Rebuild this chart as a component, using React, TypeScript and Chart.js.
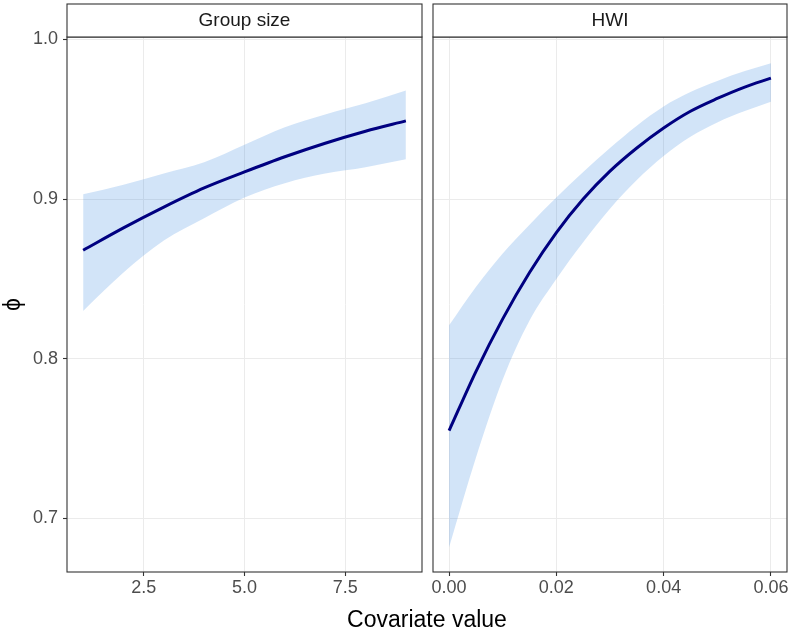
import React, { useEffect, useRef } from "react";
import { Chart, registerables } from "chart.js";

Chart.register(...registerables);

// ---- Data ----
const groupX = [1, 2, 3, 4, 5, 6, 7, 8, 9];
const groupFit = [0.868, 0.882, 0.895, 0.907, 0.917, 0.9265, 0.935, 0.9425, 0.949];
const groupLower = [0.830, 0.854, 0.874, 0.888, 0.901, 0.910, 0.916, 0.920, 0.925];
const groupUpper = [0.903, 0.909, 0.916, 0.923, 0.934, 0.945, 0.953, 0.960, 0.968];

const hwiX = [0, 0.005, 0.01, 0.015, 0.02, 0.025, 0.03, 0.035, 0.04, 0.045, 0.05, 0.055, 0.06];
const hwiFit = [0.755, 0.792, 0.825, 0.854, 0.879, 0.900, 0.9175, 0.932, 0.9445, 0.955, 0.963, 0.970, 0.9757];
const hwiLower = [0.682, 0.738, 0.787, 0.824, 0.850, 0.873, 0.894, 0.912, 0.927, 0.939, 0.948, 0.955, 0.961];
const hwiUpper = [0.821, 0.845, 0.866, 0.884, 0.901, 0.917, 0.932, 0.946, 0.958, 0.967, 0.974, 0.980, 0.985];

const yTicks = [0.7, 0.8, 0.9, 1.0];
const groupTicks = [2.5, 5.0, 7.5];
const hwiTicks = [0.0, 0.02, 0.04, 0.06];

const panelTitles = ["Group size", "HWI"];
const xTitle = "Covariate value";
const yTitle = "ϕ";

const W = 793;
const H = 634;
const FONT = '"Liberation Sans", Arial, Helvetica, sans-serif';
const BAND = "rgba(30,120,220,0.2)";
const LINE = "#000080";

const pts = (xs: number[], ys: number[]) => xs.map((x, i) => ({ x, y: ys[i] }));

const decoPlugin = {
  id: "deco",
  afterDraw(chart: any, _args: any, opts: any) {
    const { left, right, top, bottom } = chart.chartArea;
    const ctx = chart.ctx;
    ctx.save();
    ctx.strokeStyle = "#333333";
    ctx.lineWidth = 1.1;
    ctx.strokeRect(left, top, right - left, bottom - top);
    // strip
    ctx.fillStyle = "#ffffff";
    ctx.fillRect(left, 4, right - left, top - 4);
    ctx.strokeRect(left, 4, right - left, top - 4);
    ctx.fillStyle = "#1A1A1A";
    ctx.font = `19px ${FONT}`;
    ctx.textAlign = "center";
    ctx.textBaseline = "middle";
    ctx.fillText(opts.strip, (left + right) / 2, 21);
    if (opts.titles) {
      ctx.fillStyle = "#000000";
      ctx.font = `23px ${FONT}`;
      ctx.textBaseline = "alphabetic";
      ctx.fillText(xTitle, 427, 627);
      ctx.save();
      ctx.translate(13.5, 304.5);
      ctx.rotate(-Math.PI / 2);
      ctx.textBaseline = "middle";
      ctx.fillText(yTitle, 0, 0);
      ctx.restore();
    }
    ctx.restore();
  },
};

function makeConfig(
  xs: number[], fit: number[], lo: number[], hi: number[],
  xmin: number, xmax: number, xt: number[], dec: number,
  padding: any, showY: boolean, strip: string, titles: boolean
): any {
  return {
    type: "line",
    data: {
      datasets: [
        { data: pts(xs, lo), borderWidth: 0, pointRadius: 0, fill: false, order: 2, cubicInterpolationMode: "monotone" },
        { data: pts(xs, hi), borderWidth: 0, pointRadius: 0, fill: 0, backgroundColor: BAND, order: 1, cubicInterpolationMode: "monotone" },
        { data: pts(xs, fit), borderColor: LINE, borderWidth: 3, pointRadius: 0, fill: false, order: 0, cubicInterpolationMode: "monotone" },
      ],
    },
    options: {
      responsive: false,
      animation: false,
      devicePixelRatio: 1,
      layout: { padding },
      plugins: {
        legend: { display: false },
        tooltip: { enabled: false },
        deco: { strip, titles },
      },
      scales: {
        x: {
          type: "linear",
          min: xmin,
          max: xmax,
          border: { display: false },
          grid: { color: "#EBEBEB", lineWidth: 1, tickColor: "#333333", tickLength: 4, tickWidth: 1.1 },
          ticks: {
            color: "#4D4D4D",
            font: { size: 18, family: FONT },
            padding: 1,
            maxRotation: 0,
            callback: (v: number) => Number(v).toFixed(dec),
          },
          afterBuildTicks: (s: any) => { s.ticks = xt.map((v) => ({ value: v })); },
          afterFit: (s: any) => { s.height = 62; s.paddingLeft = 0; s.paddingRight = 0; },
        },
        y: {
          type: "linear",
          min: 0.6665,
          max: 1.0015,
          border: { display: false },
          grid: { color: "#EBEBEB", lineWidth: 1, tickColor: "#333333", tickLength: 4, tickWidth: 1.1, drawTicks: showY },
          ticks: {
            display: showY,
            color: "#4D4D4D",
            font: { size: 18, family: FONT },
            padding: 5,
            callback: (v: number) => Number(v).toFixed(1),
          },
          afterBuildTicks: (s: any) => { s.ticks = yTicks.map((v) => ({ value: v })); },
          afterFit: (s: any) => { s.width = showY ? 67 : 0; s.paddingTop = 0; s.paddingBottom = 0; },
        },
      },
    },
    plugins: [decoPlugin],
  };
}

export default function App() {
  const ref1 = useRef<HTMLCanvasElement>(null);
  const ref2 = useRef<HTMLCanvasElement>(null);

  useEffect(() => {
    const c1 = new Chart(
      ref1.current as HTMLCanvasElement,
      makeConfig(groupX, groupFit, groupLower, groupUpper, 0.6, 9.4, groupTicks, 1,
        { left: 0, right: W - 422, top: 37, bottom: 0 }, true, panelTitles[0], false)
    );
    const c2 = new Chart(
      ref2.current as HTMLCanvasElement,
      makeConfig(hwiX, hwiFit, hwiLower, hwiUpper, -0.003, 0.063, hwiTicks, 2,
        { left: 433, right: W - 787, top: 37, bottom: 0 }, false, panelTitles[1], true)
    );
    return () => {
      c1.destroy();
      c2.destroy();
    };
  }, []);

  const cs: React.CSSProperties = { position: "absolute", left: 0, top: 0, width: W, height: H };
  return (
    <div style={{ position: "fixed", left: 0, top: 0, width: W, height: H, background: "#fff" }}>
      <canvas ref={ref1} width={W} height={H} style={cs} />
      <canvas ref={ref2} width={W} height={H} style={cs} />
    </div>
  );
}
